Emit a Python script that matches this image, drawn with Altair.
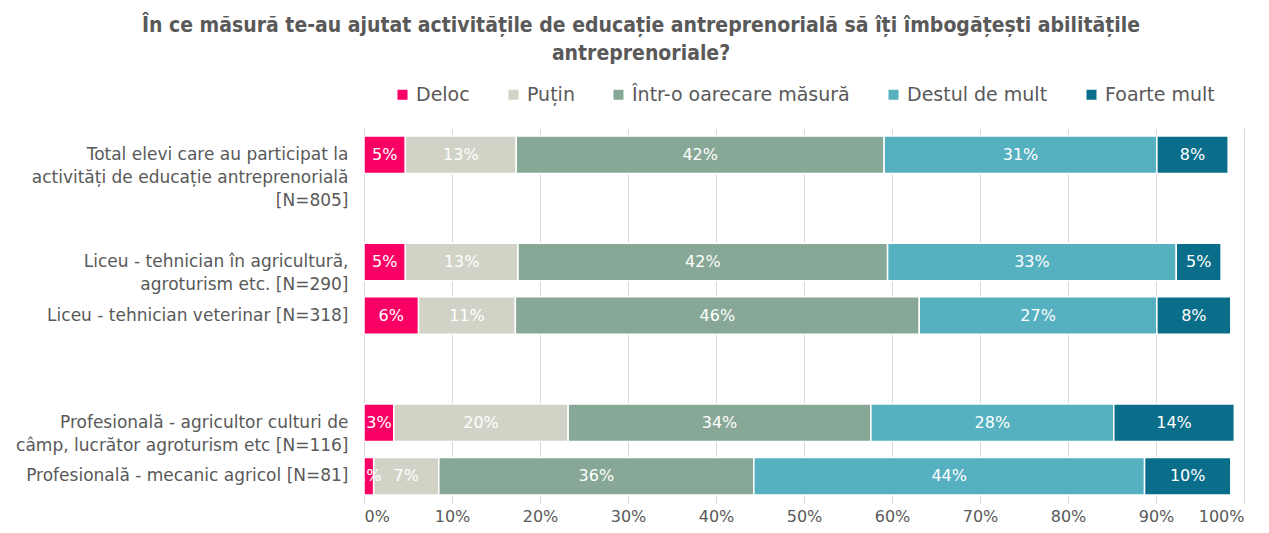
import altair as alt
import pandas as pd

categories = [
    "Total elevi care au participat la|activități de educație antreprenorială|[N=805]",
    " ",
    "Liceu - tehnician în agricultură,|agroturism etc. [N=290]",
    "Liceu - tehnician veterinar [N=318]",
    "  ",
    "Profesională - agricultor culturi de|câmp, lucrător agroturism etc [N=116]",
    "Profesională - mecanic agricol [N=81]",
]
bar_categories = [categories[0], categories[2], categories[3], categories[5], categories[6]]
series = ["Deloc", "Puțin", "Într-o oarecare măsură", "Destul de mult", "Foarte mult"]
colors = ["#FA0064", "#D2D3C7", "#87A896", "#55B0BF", "#0A6E8A"]

deloc = [4.7, 4.7, 6.2, 3.4, 1.1]
putin = [12.6, 12.8, 11.0, 19.8, 7.4]
intr = [41.8, 42.0, 45.9, 34.4, 35.8]
destul = [31.0, 32.8, 27.0, 27.6, 44.4]
foarte = [8.1, 5.1, 8.4, 13.7, 9.8]

values = [deloc, putin, intr, destul, foarte]
rows = []
for si, s in enumerate(series):
    for ci, c in enumerate(bar_categories):
        rows.append({"cat": c, "series": s, "value": values[si][ci], "order": si})
df = pd.DataFrame(rows)

FONT = "DejaVu Sans"
GREY = "#595959"

base = alt.Chart(df).transform_stack(
    stack="value", groupby=["cat"], as_=["x0", "x1"],
    sort=[alt.SortField("order", order="ascending")]
).transform_calculate(
    mid="(datum.x0 + datum.x1) / 2",
    lbl="format(datum.value, '.0f') + '%'"
)

y = alt.Y(
    "cat:N",
    scale=alt.Scale(domain=categories, paddingInner=0.3, paddingOuter=0.15),
    axis=alt.Axis(
        title=None, labelExpr="split(datum.label, '|')", labelAlign="right",
        labelBaseline="middle", labelFontSize=17, labelColor=GREY, labelFont=FONT,
        labelLineHeight=23, labelPadding=16, labelLimit=0, ticks=False,
        domainColor="#D9D9D9", domainWidth=1,
    ),
)

bars = base.mark_bar(stroke="white", strokeWidth=1.5).encode(
    x=alt.X(
        "x0:Q",
        scale=alt.Scale(domain=[0, 100], nice=False),
        axis=alt.Axis(
            title=None, values=list(range(0, 101, 10)), labelExpr="datum.value + '%'",
            grid=True, gridColor="#D9D9D9", domain=False, ticks=False,
            labelFontSize=16, labelColor=GREY, labelFont=FONT, labelPadding=5,
        ),
    ),
    x2="x1:Q",
    y=y,
    color=alt.Color(
        "series:N",
        scale=alt.Scale(domain=series, range=colors),
        legend=alt.Legend(
            title=None, orient="none", direction="horizontal", legendX=29, legendY=-43,
            symbolType="square", symbolSize=100, symbolStrokeWidth=0,
            labelFontSize=19, labelColor=GREY, labelFont=FONT, labelOffset=4,
            labelLimit=0, columnPadding=34,
        ),
    ),
    order=alt.Order("order:Q"),
)

texts = base.mark_text(color="white", fontSize=16, font=FONT).encode(
    x=alt.X("mid:Q"),
    y=y,
    text="lbl:N",
)

chart = alt.layer(bars, texts).properties(
    width=880,
    height=375,
    autosize=alt.AutoSizeParams(type="none"),
    padding={"left": 356, "top": 120, "right": 10, "bottom": 22},
    title=alt.TitleParams(
        text=["În ce măsură te-au ajutat activitățile de educație antreprenorială să îți îmbogățești abilitățile",
              "antreprenoriale?"],
        font="DejaVu Sans Condensed", fontSize=21, fontWeight="bold", color=GREY,
        anchor="middle", dx=-163, lineHeight=28, offset=21,
    ),
).configure(font=FONT, view=alt.ViewConfig(stroke=None))

chart.save("out.html", embed_options={"renderer": "svg", "actions": False})
